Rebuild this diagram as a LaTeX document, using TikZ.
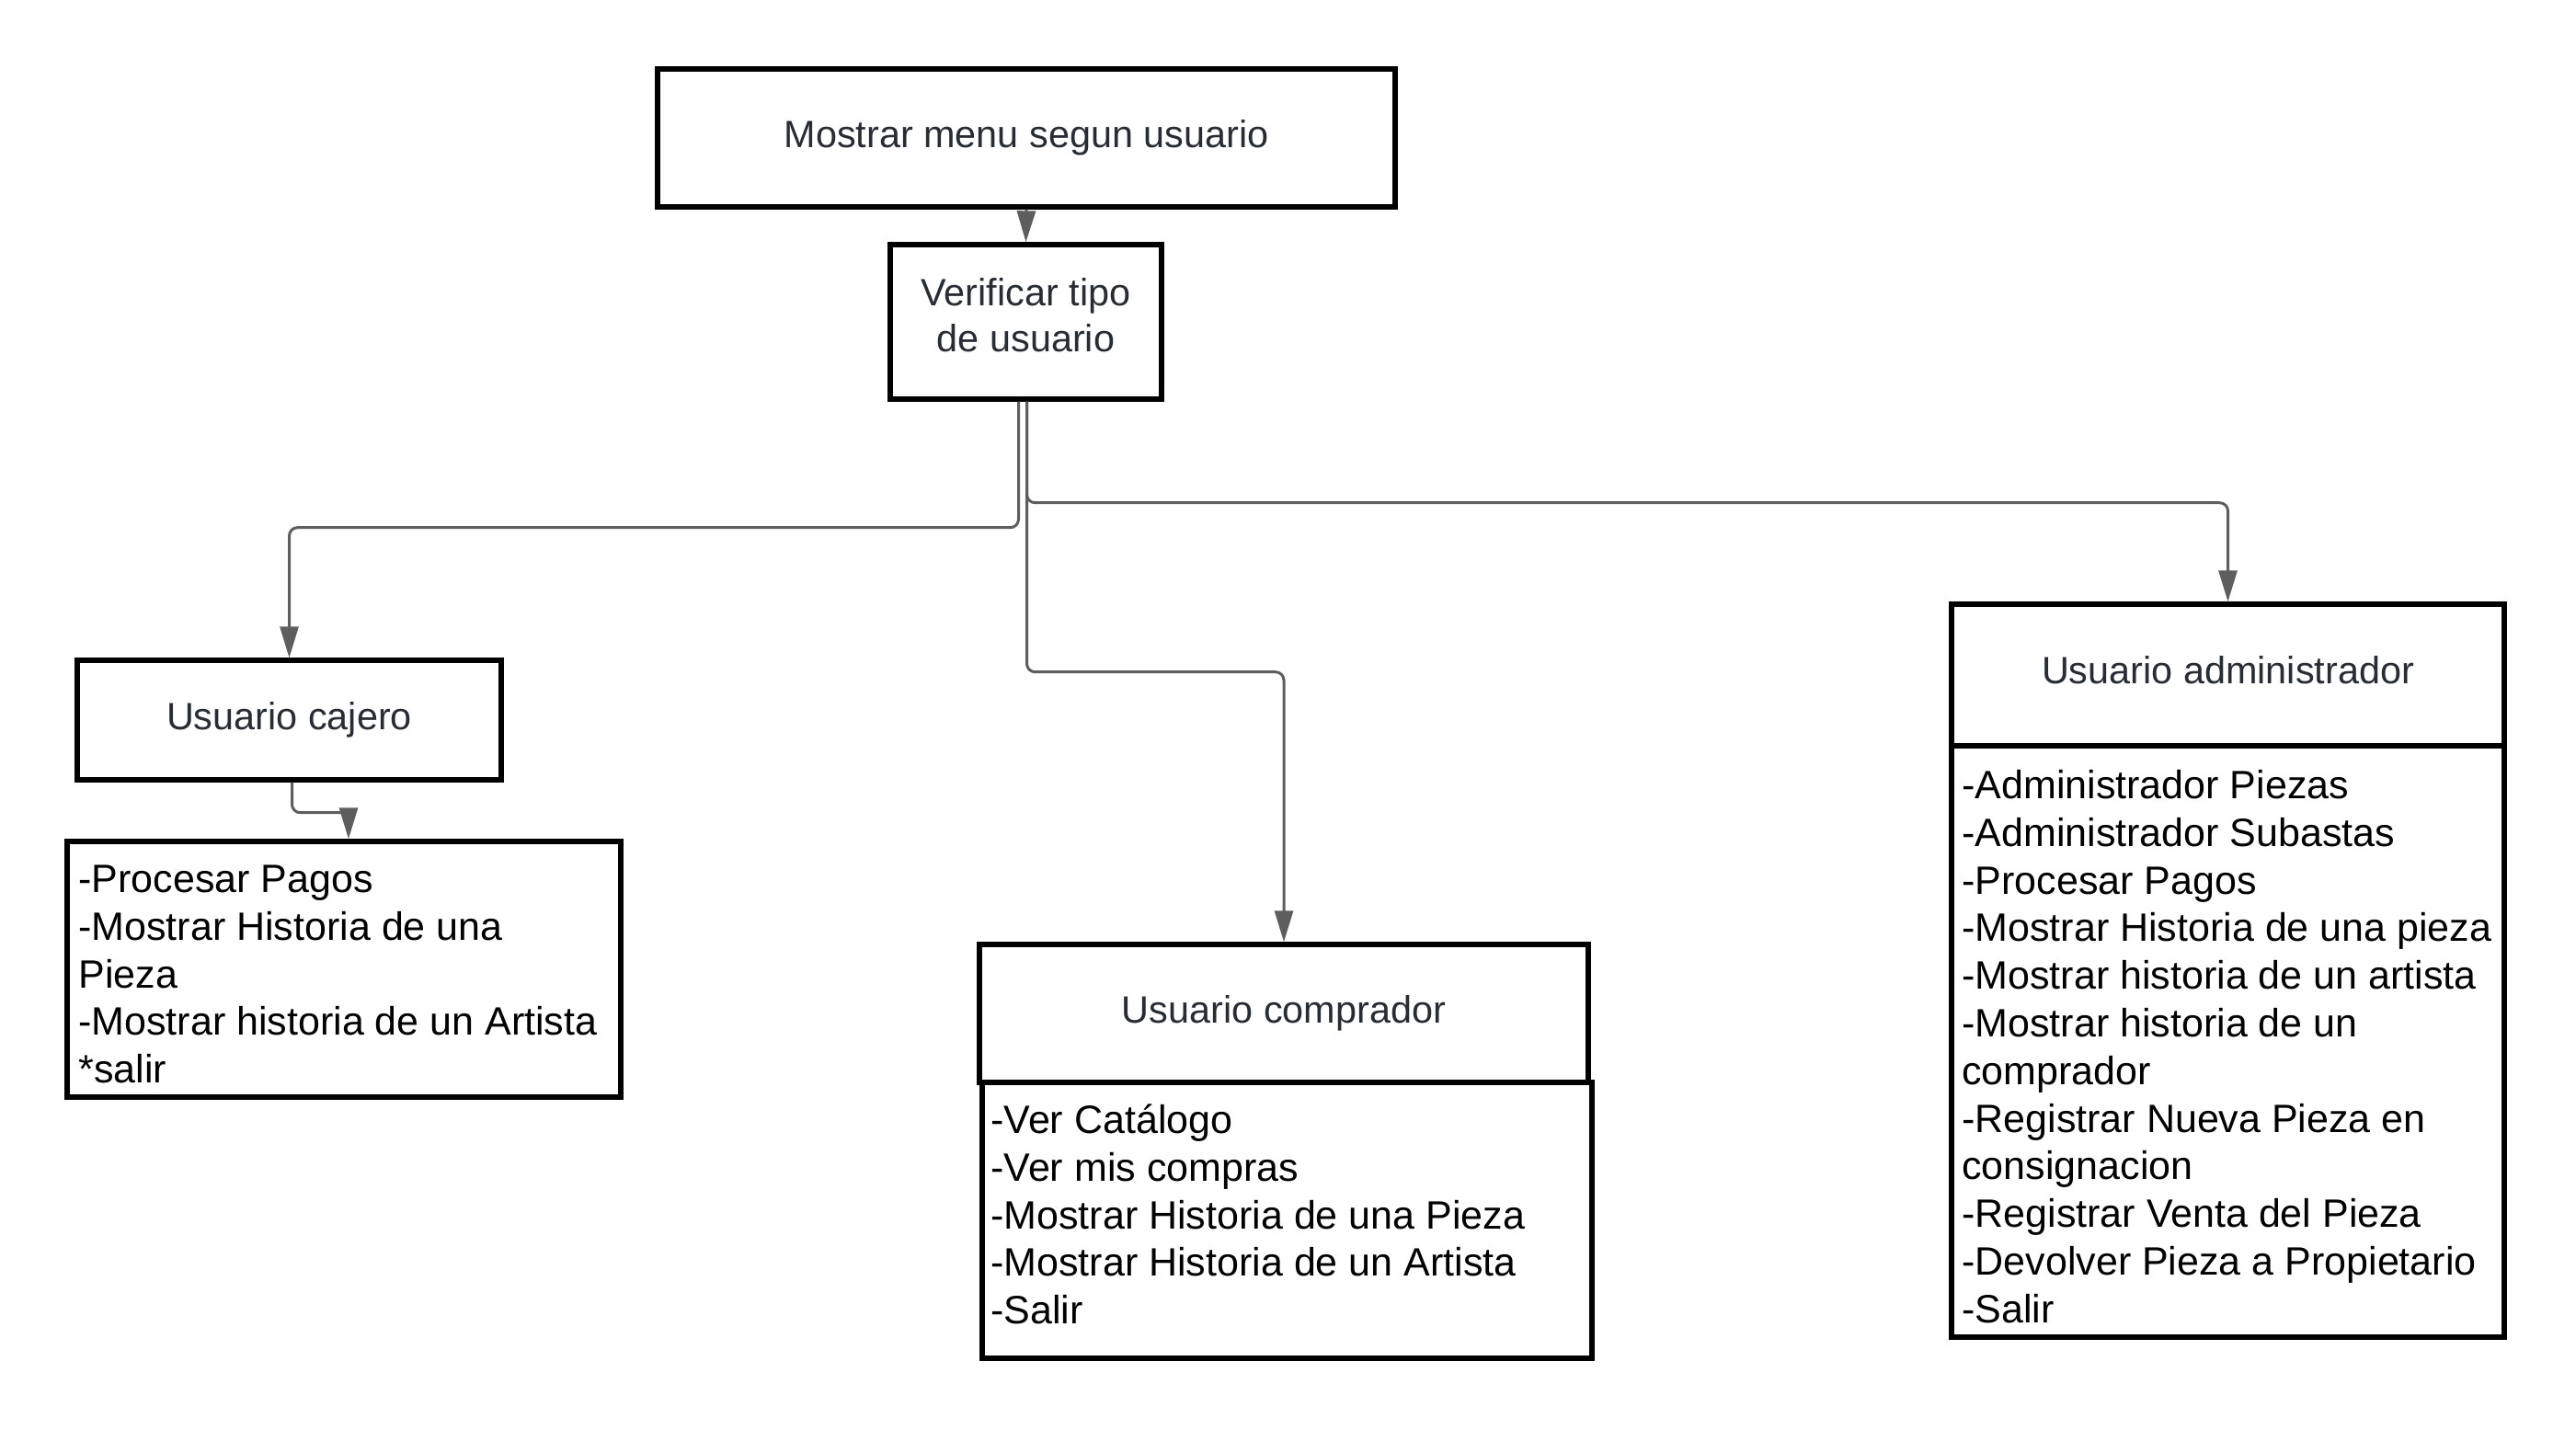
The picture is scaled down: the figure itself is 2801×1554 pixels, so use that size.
\documentclass[tikz,border=0pt]{standalone}
\usepackage{fontspec}
\setmainfont{Liberation Sans}
\usetikzlibrary{arrows.meta}
\definecolor{hdtext}{HTML}{282C33}
\definecolor{connc}{HTML}{5E5E5E}
\newcommand{\firststrut}{\rule{0pt}{18pt}}
\begin{document}
\begin{tikzpicture}[x=0.5pt,y=-0.5pt,
  box/.style={draw=black,line width=2.7pt,fill=white,rectangle,inner sep=0pt},
  hdr/.style={text=hdtext,font=\fontsize{20.7pt}{25pt}\selectfont,align=center},
  lst/.style={text=black,font=\fontsize{21.5pt}{25.9pt}\selectfont,align=left,inner sep=0pt,anchor=north west},
  link/.style={draw=connc,line width=1.5pt,rounded corners=4.5pt,-{Triangle[length=17pt,width=10pt]}}]
\useasboundingbox[fill=white] (0,0) rectangle (2801,1554);

\node[box,hdr,minimum width=401pt,minimum height=75pt] (top) at (1116,150) {Mostrar menu segun usuario};
\node[box,minimum width=147.5pt,minimum height=84pt] (verify) at (1115.5,350) {};
\node[hdr,inner sep=0pt] (verifytxt) at (1115.5,343) {Verificar tipo\\de usuario};
\node[box,hdr,minimum width=230.5pt,minimum height=65pt] (cajero) at (314.5,783) {Usuario cajero};
\node[box,minimum width=301pt,minimum height=139pt] (cajerolist) at (374,1054) {};
\node[lst] (cajerotxt) at (85,934) {\firststrut-Procesar Pagos\\-Mostrar Historia de una\\Pieza\\-Mostrar historia de un Artista\\*salir};

\node[box,minimum width=331.5pt,minimum height=150pt] (complist) at (1399.5,1327) {};
\node[box,hdr,minimum width=331pt,minimum height=75pt] (comphdr) at (1396,1102) {Usuario comprador};
\node[lst] (comptxt) at (1077,1196) {\firststrut-Ver Catálogo\\-Ver mis compras\\-Mostrar Historia de una Pieza\\-Mostrar Historia de un Artista\\-Salir};

\node[box,minimum width=300.5pt,minimum height=321.5pt] (admlist) at (2422.5,1132.5) {};
\node[box,minimum width=300.5pt,minimum height=77pt] (admhdr) at (2422.5,734) {};
\node[hdr,inner sep=0pt] (admhdrtxt) at (2422.5,729) {Usuario administrador};
\node[lst] (admtxt) at (2133,832) {\firststrut-Administrador Piezas\\-Administrador Subastas\\-Procesar Pagos\\-Mostrar Historia de una pieza\\-Mostrar historia de un artista\\-Mostrar historia de un\\comprador\\-Registrar Nueva Pieza en\\consignacion\\-Registrar Venta del Pieza\\-Devolver Pieza a Propietario\\-Salir};

\draw[link] (top.south) -- (verify.north);
\draw[link] ([xshift=-4pt]verify.south) -- ++(0,137) -| (cajero.north);
\draw[link] ([xshift=0.5pt]verify.south) -- ++(0,294) -| (comphdr.north);
\draw[link] ([xshift=0.5pt]verify.south) -- ++(0,110) -| (admhdr.north);
\draw[link] ([xshift=1.5pt]cajero.south) -- ++(0,33) -| ([xshift=2.5pt]cajerolist.north);
\end{tikzpicture}
\end{document}
